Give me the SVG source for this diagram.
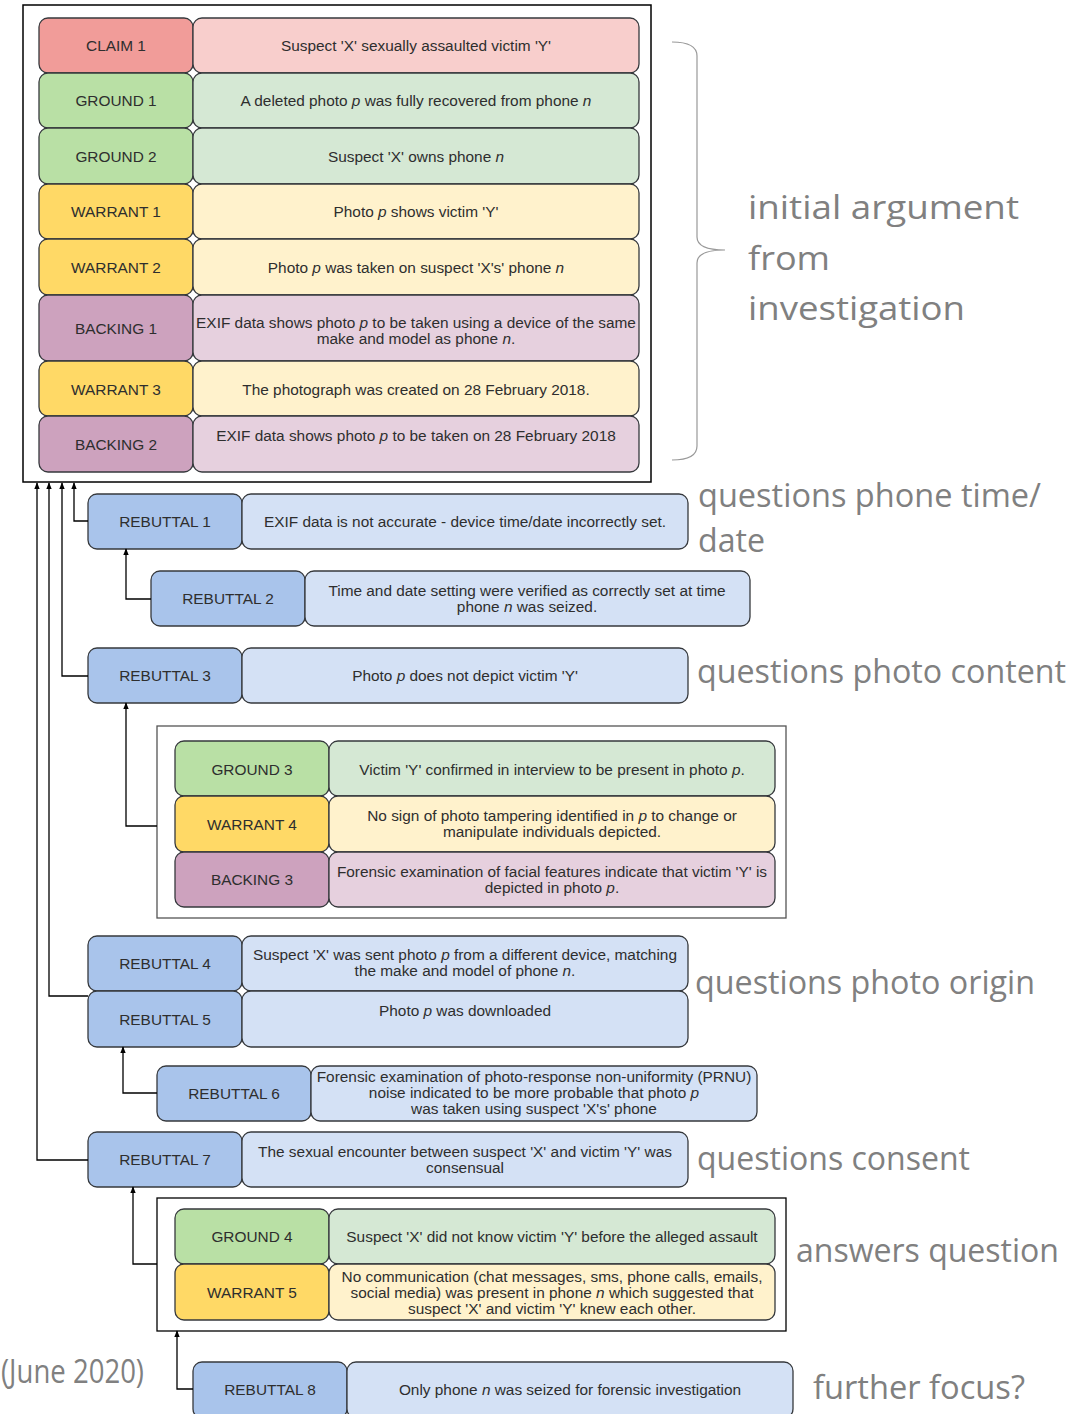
<svg xmlns="http://www.w3.org/2000/svg" width="1074" height="1414" viewBox="0 0 1074 1414">
<defs>
<style>
.bx{stroke:#36393d;stroke-width:1.3}
.cl{fill:#f19c99}.cr{fill:#f8cecc}
.gl{fill:#b9e0a5}.gr{fill:#d5e8d4}
.wl{fill:#ffd966}.wr{fill:#fff2cc}
.bl{fill:#cda2be}.br{fill:#e6d0de}
.rl{fill:#a9c4eb}.rr{fill:#d4e1f5}
text{font-family:"Liberation Sans",Arial,sans-serif;font-size:15.4px;fill:#2e2e2e}
.c{text-anchor:middle}
.an{font-family:"Open Sans","Noto Sans",sans-serif;font-size:33px;fill:#808080}
.i{font-style:italic}
.ln{fill:none;stroke:#000;stroke-width:1.3}
</style>
<marker id="ah" viewBox="0 0 10 10" refX="9" refY="5" markerWidth="7" markerHeight="7" orient="auto" markerUnits="userSpaceOnUse">
<path d="M0,1 L10,5 L0,9 Z" fill="#000"/>
</marker>
</defs>
<rect width="1074" height="1414" fill="#fff"/>

<!-- containers -->
<rect id="initial-argument" x="23" y="5" width="628" height="477" fill="#fff" stroke="#000" stroke-width="1.5"/>
<rect id="group-3" x="157" y="726" width="629" height="192" fill="#fff" stroke="#555" stroke-width="1.3"/>
<rect id="group-4" x="157" y="1198" width="629" height="133" fill="#fff" stroke="#000" stroke-width="1.3"/>

<g id="claim1"><rect class="bx cl" x="39" y="18" width="154" height="55" rx="9"/><rect class="bx cr" x="193" y="18" width="446" height="55" rx="9"/>
<text class="c" x="116" y="51">CLAIM 1</text><text class="c" x="416" y="51">Suspect 'X' sexually assaulted victim 'Y'</text></g>
<g id="ground1"><rect class="bx gl" x="39" y="73" width="154" height="55" rx="9"/><rect class="bx gr" x="193" y="73" width="446" height="55" rx="9"/>
<text class="c" x="116" y="106">GROUND 1</text><text class="c" x="416" y="106">A deleted photo <tspan class="i">p</tspan> was fully recovered from phone <tspan class="i">n</tspan></text></g>
<g id="ground2"><rect class="bx gl" x="39" y="128" width="154" height="56" rx="9"/><rect class="bx gr" x="193" y="128" width="446" height="56" rx="9"/>
<text class="c" x="116" y="162">GROUND 2</text><text class="c" x="416" y="162">Suspect 'X' owns phone <tspan class="i">n</tspan></text></g>
<g id="warrant1"><rect class="bx wl" x="39" y="184" width="154" height="55" rx="9"/><rect class="bx wr" x="193" y="184" width="446" height="55" rx="9"/>
<text class="c" x="116" y="217">WARRANT 1</text><text class="c" x="416" y="217">Photo <tspan class="i">p</tspan> shows victim 'Y'</text></g>
<g id="warrant2"><rect class="bx wl" x="39" y="239" width="154" height="56" rx="9"/><rect class="bx wr" x="193" y="239" width="446" height="56" rx="9"/>
<text class="c" x="116" y="273">WARRANT 2</text><text class="c" x="416" y="273">Photo <tspan class="i">p</tspan> was taken on suspect 'X's' phone <tspan class="i">n</tspan></text></g>
<g id="backing1"><rect class="bx bl" x="39" y="295" width="154" height="66" rx="9"/><rect class="bx br" x="193" y="295" width="446" height="66" rx="9"/>
<text class="c" x="116" y="334">BACKING 1</text><text class="c" x="416" y="328">EXIF data shows photo <tspan class="i">p</tspan> to be taken using a device of the same</text><text class="c" x="416" y="344">make and model as phone <tspan class="i">n</tspan>.</text></g>
<g id="warrant3"><rect class="bx wl" x="39" y="361" width="154" height="55" rx="9"/><rect class="bx wr" x="193" y="361" width="446" height="55" rx="9"/>
<text class="c" x="116" y="395">WARRANT 3</text><text class="c" x="416" y="395">The photograph was created on 28 February 2018.</text></g>
<g id="backing2"><rect class="bx bl" x="39" y="416" width="154" height="56" rx="9"/><rect class="bx br" x="193" y="416" width="446" height="56" rx="9"/>
<text class="c" x="116" y="450">BACKING 2</text><text class="c" x="416" y="441">EXIF data shows photo <tspan class="i">p</tspan> to be taken on 28 February 2018</text></g>

<g id="rebuttal1"><rect class="bx rl" x="88" y="494" width="154" height="55" rx="9"/><rect class="bx rr" x="242" y="494" width="446" height="55" rx="9"/>
<text class="c" x="165" y="527">REBUTTAL 1</text><text class="c" x="465" y="527">EXIF data is not accurate - device time/date incorrectly set.</text></g>
<g id="rebuttal2"><rect class="bx rl" x="151" y="571" width="154" height="55" rx="9"/><rect class="bx rr" x="305" y="571" width="445" height="55" rx="9"/>
<text class="c" x="228" y="604">REBUTTAL 2</text><text class="c" x="527" y="596">Time and date setting were verified as correctly set at time</text><text class="c" x="527" y="612">phone <tspan class="i">n</tspan> was seized.</text></g>
<g id="rebuttal3"><rect class="bx rl" x="88" y="648" width="154" height="55" rx="9"/><rect class="bx rr" x="242" y="648" width="446" height="55" rx="9"/>
<text class="c" x="165" y="681">REBUTTAL 3</text><text class="c" x="465" y="681">Photo <tspan class="i">p</tspan> does not depict victim 'Y'</text></g>

<g id="ground3"><rect class="bx gl" x="175" y="741" width="154" height="55" rx="9"/><rect class="bx gr" x="329" y="741" width="446" height="55" rx="9"/>
<text class="c" x="252" y="775">GROUND 3</text><text class="c" x="552" y="775">Victim 'Y' confirmed in interview to be present in photo <tspan class="i">p</tspan>.</text></g>
<g id="warrant4"><rect class="bx wl" x="175" y="796" width="154" height="56" rx="9"/><rect class="bx wr" x="329" y="796" width="446" height="56" rx="9"/>
<text class="c" x="252" y="830">WARRANT 4</text><text class="c" x="552" y="821">No sign of photo tampering identified in <tspan class="i">p</tspan> to change or</text><text class="c" x="552" y="837">manipulate individuals depicted.</text></g>
<g id="backing3"><rect class="bx bl" x="175" y="852" width="154" height="55" rx="9"/><rect class="bx br" x="329" y="852" width="446" height="55" rx="9"/>
<text class="c" x="252" y="885">BACKING 3</text><text class="c" x="552" y="877">Forensic examination of facial features indicate that victim 'Y' is</text><text class="c" x="552" y="893">depicted in photo <tspan class="i">p</tspan>.</text></g>

<g id="rebuttal4"><rect class="bx rl" x="88" y="936" width="154" height="55" rx="9"/><rect class="bx rr" x="242" y="936" width="446" height="55" rx="9"/>
<text class="c" x="165" y="969">REBUTTAL 4</text><text class="c" x="465" y="960">Suspect 'X' was sent photo <tspan class="i">p</tspan> from a different device, matching</text><text class="c" x="465" y="976">the make and model of phone <tspan class="i">n</tspan>.</text></g>
<g id="rebuttal5"><rect class="bx rl" x="88" y="991" width="154" height="56" rx="9"/><rect class="bx rr" x="242" y="991" width="446" height="56" rx="9"/>
<text class="c" x="165" y="1025">REBUTTAL 5</text><text class="c" x="465" y="1016">Photo <tspan class="i">p</tspan> was downloaded</text></g>
<g id="rebuttal6"><rect class="bx rl" x="157" y="1066" width="154" height="55" rx="9"/><rect class="bx rr" x="311" y="1066" width="446" height="55" rx="9"/>
<text class="c" x="234" y="1099">REBUTTAL 6</text><text class="c" x="534" y="1082">Forensic examination of photo-response non-uniformity (PRNU)</text><text class="c" x="534" y="1098">noise indicated to be more probable that photo <tspan class="i">p</tspan></text><text class="c" x="534" y="1114">was taken using suspect 'X's' phone</text></g>
<g id="rebuttal7"><rect class="bx rl" x="88" y="1132" width="154" height="55" rx="9"/><rect class="bx rr" x="242" y="1132" width="446" height="55" rx="9"/>
<text class="c" x="165" y="1165">REBUTTAL 7</text><text class="c" x="465" y="1157">The sexual encounter between suspect 'X' and victim 'Y' was</text><text class="c" x="465" y="1173">consensual</text></g>

<g id="ground4"><rect class="bx gl" x="175" y="1209" width="154" height="55" rx="9"/><rect class="bx gr" x="329" y="1209" width="446" height="55" rx="9"/>
<text class="c" x="252" y="1242">GROUND 4</text><text class="c" x="552" y="1242">Suspect 'X' did not know victim 'Y' before the alleged assault</text></g>
<g id="warrant5"><rect class="bx wl" x="175" y="1264" width="154" height="56" rx="9"/><rect class="bx wr" x="329" y="1264" width="446" height="56" rx="9"/>
<text class="c" x="252" y="1298">WARRANT 5</text><text class="c" x="552" y="1282">No communication (chat messages, sms, phone calls, emails,</text><text class="c" x="552" y="1298">social media) was present in phone <tspan class="i">n</tspan> which suggested that</text><text class="c" x="552" y="1314">suspect  'X' and victim 'Y' knew each other.</text></g>

<g id="rebuttal8"><rect class="bx rl" x="193" y="1362" width="154" height="56" rx="9"/><rect class="bx rr" x="347" y="1362" width="446" height="56" rx="9"/>
<text class="c" x="270" y="1395">REBUTTAL 8</text><text class="c" x="570" y="1395">Only phone <tspan class="i">n</tspan> was seized for forensic investigation</text></g>

<g id="connectors">
<path class="ln" marker-end="url(#ah)" d="M88,521 H74 V483"/>
<path class="ln" marker-end="url(#ah)" d="M88,676 H62 V483"/>
<path class="ln" marker-end="url(#ah)" d="M88,996 H49 V483"/>
<path class="ln" marker-end="url(#ah)" d="M88,1160 H37 V483"/>
<path class="ln" marker-end="url(#ah)" d="M151,599 H126 V549"/>
<path class="ln" marker-end="url(#ah)" d="M157,826 H126 V703"/>
<path class="ln" marker-end="url(#ah)" d="M157,1093 H123 V1047"/>
<path class="ln" marker-end="url(#ah)" d="M157,1264 H133 V1187"/>
<path class="ln" marker-end="url(#ah)" d="M193,1389 H177 V1331"/>
</g>

<g id="annotations">
<path d="M672,42 Q697,42 697,56 L697,237 Q697,250 725,250 Q697,250 697,263 L697,446 Q697,460 672,460" fill="none" stroke="#999" stroke-width="1.2"/>
<text class="an" x="748" y="219" textLength="271" lengthAdjust="spacingAndGlyphs">initial argument</text>
<text class="an" x="748" y="270" textLength="82" lengthAdjust="spacingAndGlyphs">from</text>
<text class="an" x="748" y="320" textLength="217" lengthAdjust="spacingAndGlyphs">investigation</text>
<text class="an" x="698" y="507" textLength="343" lengthAdjust="spacingAndGlyphs">questions phone time/</text>
<text class="an" x="698" y="552" textLength="67" lengthAdjust="spacingAndGlyphs">date</text>
<text class="an" x="697" y="683" textLength="369" lengthAdjust="spacingAndGlyphs">questions photo content</text>
<text class="an" x="695" y="994" textLength="340" lengthAdjust="spacingAndGlyphs">questions photo origin</text>
<text class="an" x="697" y="1170" textLength="273" lengthAdjust="spacingAndGlyphs">questions consent</text>
<text class="an" x="796" y="1262" textLength="263" lengthAdjust="spacingAndGlyphs">answers question</text>
<text class="an" x="813" y="1399" textLength="212" lengthAdjust="spacingAndGlyphs">further focus?</text>
<text class="an" x="1" y="1383" textLength="143" lengthAdjust="spacingAndGlyphs">(June 2020)</text>
</g>
</svg>
